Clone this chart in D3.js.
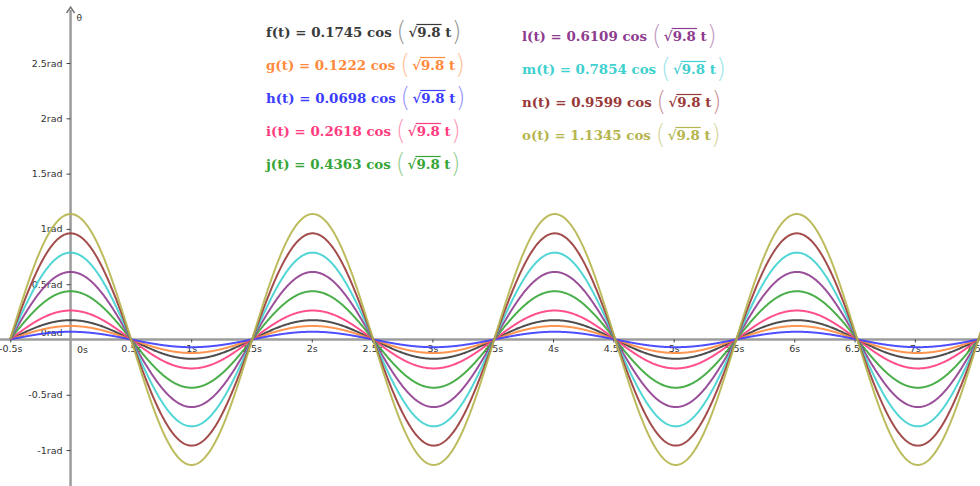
<!DOCTYPE html>
<html lang="en">
<head>
<meta charset="UTF-8">
<title>Pendulum angles : a cos(sqrt(9.8) t)</title>
<script src="https://d3js.org/d3.v7.min.js"></script>
<style>
    body { margin: 0; background: #fff; }
    svg { display: block; }
</style>
</head>
<body>

<div id="my_dataviz"></div>

<script>
    // Function names, amplitudes (rad) and curve colours
    const fnNames = ["f", "g", "h", "i", "j", "l", "m", "n", "o"];
    const amplitudes = [0.1745, 0.1222, 0.0698, 0.2618, 0.4363, 0.6109, 0.7854, 0.9599, 1.1345];
    const fnColors = ["#3a3a3a", "#ff8a3d", "#3c3cff", "#ff3d80", "#36a536",
                      "#8e3c8e", "#3fd0d0", "#993838", "#b5b54e"];
    const g9 = 9.8;   // g, under the square root

    // Axis ticks
    const xTicks = [-0.5, 0.5, 1, 1.5, 2, 2.5, 3, 3.5, 4, 4.5, 5, 5.5, 6, 6.5, 7, 7.5];
    const yTicks = [-1, -0.5, 0.5, 1, 1.5, 2, 2.5];

    // time range that is plotted
    const tStart = -0.5, tEnd = 7.6;

    const W = 980, H = 486;

    const svg = d3.select("#my_dataviz")
        .append("svg")
            .attr("width", W)
            .attr("height", H);

    // scales (pixel positions)
    const x = d3.scaleLinear().domain([-0.585, 7.54]).range([0, W]);
    const y = d3.scaleLinear().domain([3.07, -1.325]).range([0, H]);

    const axisGrey = "#9c9c9c";

    // x axis line
    svg.append("line")
        .attr("x1", 0).attr("x2", W)
        .attr("y1", y(0)).attr("y2", y(0))
        .attr("stroke", axisGrey).attr("stroke-width", 2.5);

    // y axis line with arrow head
    svg.append("line")
        .attr("x1", x(0)).attr("x2", x(0))
        .attr("y1", H).attr("y2", 10)
        .attr("stroke", axisGrey).attr("stroke-width", 2.5);
    svg.append("path")
        .attr("d", `M${x(0) - 4},${13} L${x(0)},${7} L${x(0) + 4},${13}`)
        .attr("fill", "none").attr("stroke", "#777").attr("stroke-width", 1.5);

    svg.append("text")
        .attr("x", x(0) + 6).attr("y", 21)
        .style("font", "9px 'DejaVu Sans'").style("fill", "#333")
        .text("θ");

    // x axis ticks and labels
    const xAxis = svg.append("g")
        .attr("transform", `translate(0, ${y(0)})`)
        .call(d3.axisBottom(x).tickValues(xTicks).tickSize(3).tickPadding(3)
                .tickFormat(d => d + "s"));

    // y axis ticks and labels
    const yAxis = svg.append("g")
        .attr("transform", `translate(${x(0)}, 0)`)
        .call(d3.axisLeft(y).tickValues(yTicks).tickSize(4).tickPadding(4)
                .tickFormat(d => d + "rad"));

    [xAxis, yAxis].forEach(a => {
        a.select(".domain").remove();
        a.selectAll("line").attr("stroke", "#444");
        a.selectAll("text")
            .style("font-family", "'DejaVu Sans', sans-serif")
            .style("font-size", "9.5px")
            .style("fill", "#333");
    });

    // origin labels, offset as in the picture
    svg.append("text")
        .attr("x", x(0) - 8).attr("y", y(0) - 3)
        .attr("text-anchor", "end")
        .style("font", "9.5px 'DejaVu Sans'").style("fill", "#333")
        .text("0rad");
    svg.append("text")
        .attr("x", x(0) + 12).attr("y", y(0) + 14)
        .attr("text-anchor", "middle")
        .style("font", "9.5px 'DejaVu Sans'").style("fill", "#333")
        .text("0s");

    // curves a * cos(sqrt(g) t)
    const tSamples = d3.range(tStart, tEnd, 0.005);
    const line = d3.line()
        .x(d => x(d[0]))
        .y(d => y(d[1]));

    svg.append("g")
        .selectAll("path")
        .data(amplitudes)
        .join("path")
            .attr("d", a => line(tSamples.map(t => [t, a * Math.cos(Math.sqrt(g9) * t)])))
            .attr("fill", "none")
            .attr("stroke", (a, i) => fnColors[i])
            .attr("stroke-width", 2)
            .attr("stroke-opacity", 0.9);

    // formula labels : two columns
    const labels = svg.append("g");
    fnNames.forEach((name, i) => {
        const col = i < 5 ? 0 : 1;
        const row = col === 0 ? i : i - 5;
        const lx = col === 0 ? 266 : 522;
        const ly = (col === 0 ? 37 : 41) + row * 33;
        const c = fnColors[i];

        const t = labels.append("text")
            .attr("x", lx).attr("y", ly)
            .style("font-family", "'DejaVu Serif', serif")
            .style("font-weight", "bold")
            .style("font-size", "13.4px")
            .style("fill", c);

        const head = `${name}(t) = ${amplitudes[i].toFixed(4)} cos `;
        t.append("tspan").text(head);
        t.append("tspan")
            .attr("dy", 3)
            .style("font-family", "'DejaVu Sans', sans-serif")
            .style("font-weight", "200")
            .style("font-size", "26px")
            .style("fill-opacity", 0.55)
            .text("(");
        t.append("tspan").attr("dy", -3).attr("dx", 2).text("√9.8 t");
        t.append("tspan")
            .attr("dy", 3)
            .style("font-family", "'DejaVu Sans', sans-serif")
            .style("font-weight", "200")
            .style("font-size", "26px")
            .style("fill-opacity", 0.55)
            .text(")");

        // overline over the radicand
        const node = t.node();
        const i9 = head.length + 2;          // index of "9"
        const s = node.getStartPositionOfChar(i9);
        const e = node.getEndPositionOfChar(i9 + 2);
        labels.append("line")
            .attr("x1", s.x - 1).attr("x2", e.x + 1)
            .attr("y1", ly - 12.5).attr("y2", ly - 12.5)
            .attr("stroke", c).attr("stroke-width", 1.2);
    });
</script>

</body>
</html>
